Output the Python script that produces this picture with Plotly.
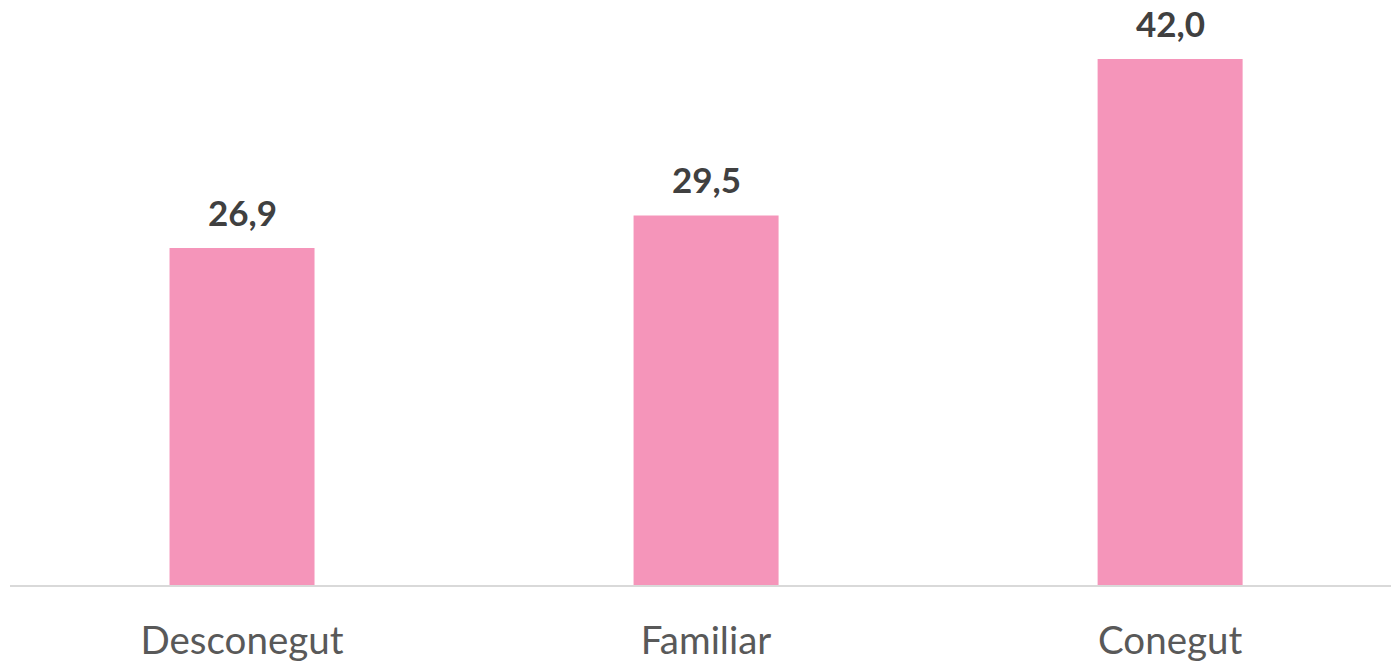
import plotly.graph_objects as go

categories = ["Desconegut", "Familiar", "Conegut"]
values = [26.9, 29.5, 42.0]
labels = ["26,9", "29,5", "42,0"]

fig = go.Figure(go.Bar(
    x=categories, y=values, width=0.3125,
    marker=dict(color="#F595BA", line=dict(width=0)),
    hoverinfo="skip",
))
for c, v, t in zip(categories, values, labels):
    fig.add_annotation(x=c, y=v, text=t, showarrow=False, yanchor="bottom", yshift=13,
                       font=dict(family="Lato", size=35, color="#404040", weight="bold"))
fig.update_layout(
    width=1391, height=661,
    margin=dict(l=10, r=0, t=0, b=76),
    paper_bgcolor="white", plot_bgcolor="white",
    showlegend=False,
    xaxis=dict(range=[-0.5, 2.476], showline=True, linecolor="#D9D9D9", linewidth=2,
               ticks="", tickfont=dict(family="Lato", size=38.5, color="#595959"),
               ticklabelstandoff=21,
               showgrid=False, zeroline=False),
    yaxis=dict(range=[0, 46.7], visible=False, showgrid=False, zeroline=False),
)
fig.write_html("out.html", config={"displayModeBar": False},
               post_script="document.body.style.margin='0';")
